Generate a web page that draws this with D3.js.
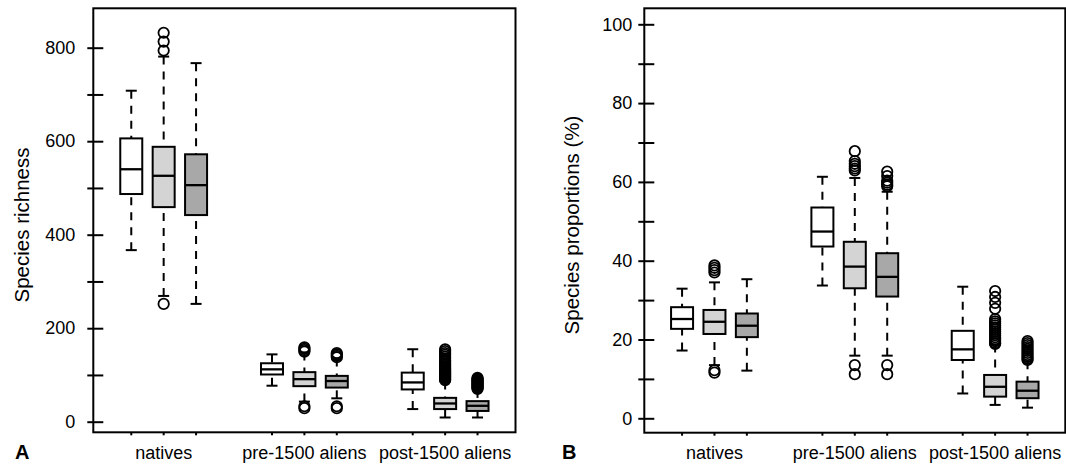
<!DOCTYPE html>
<html><head><meta charset="utf-8">
<script src="https://cdn.jsdelivr.net/npm/d3@7"></script>
<style>
body{margin:0;background:#fff}
svg{display:block}
text{font-family:"Liberation Sans",Arial,Helvetica,sans-serif;fill:#000}
</style>
</head><body>
<svg id="c" width="1066" height="464"></svg>
<script>
// ---------------- data ----------------
const groups = ["natives", "pre-1500 aliens", "post-1500 aliens"];
const series = ["s1", "s2", "s3"];   // three boxes per group (white, light grey, dark grey)

// Panel A: species richness  (order: natives s1..s3, pre-1500 s1..s3, post-1500 s1..s3)
const richLow  = [367, 269, 252,  77,  43,  50,  27,   9,   9];
const richQ1   = [487, 459, 442, 101,  76,  73,  69,  27,  23];
const richMed  = [540, 526, 506, 112,  91,  87,  84,  39,  34];
const richQ3   = [606, 588, 572, 125, 106,  98, 105,  51,  44];
const richHigh = [708, 781, 767, 144, 148, 135, 155,  86,  68];
const richOut  = [
  [],
  [832, 813, 794, 252],
  [],
  [],
  [159, 156, 153, 150, 33, 29],
  [147, 144, 141, 138, 33, 29],
  [],
  [155, 151, 147, 143, 139, 135, 131, 128, 125, 122, 119, 116, 113, 111, 109, 107, 105, 103, 101, 99, 97, 95, 93, 91, 89],
  [94, 92, 90, 88, 86, 84, 82, 80, 78, 76, 74, 72, 70]
];
const richTicks  = [0, 100, 200, 300, 400, 500, 600, 700, 800];
const richLabels = [0, 200, 400, 600, 800];

// Panel B: species proportions (%)
const propLow  = [17.2, 13.5, 12.1, 33.7, 15.9, 15.9,  6.3,  3.4,  2.7];
const propQ1   = [22.7, 21.4, 20.6, 43.6, 33.0, 30.9, 14.8,  5.5,  5.1];
const propMed  = [25.2, 24.5, 23.5, 47.4, 38.5, 35.9, 17.5,  8.0,  7.0];
const propQ3   = [28.2, 27.5, 26.6, 53.5, 44.8, 41.9, 22.2, 11.0,  9.3];
const propHigh = [32.9, 34.5, 35.3, 61.3, 61.0, 57.5, 33.4, 18.7, 14.5];
const propOut  = [
  [],
  [38.8, 38.2, 37.6, 37.0, 12.2, 11.6],
  [],
  [],
  [67.8, 65.3, 64.6, 64.0, 63.4, 62.9, 13.5, 11.2],
  [62.6, 61.5, 60.3, 59.8, 59.3, 58.9, 13.5, 11.2],
  [],
  [32.3, 30.8, 29.3, 27.8, 25.2, 24.6, 24.1, 23.6, 23.1, 22.6, 22.1, 21.6, 21.1, 20.6, 20.1, 19.6, 19.1, 18.9],
  [19.6, 19.1, 18.6, 18.1, 17.6, 17.1, 16.6, 16.1, 15.6, 15.2, 14.8]
];
const propTicks  = [0, 10, 20, 30, 40, 50, 60, 70, 80, 90, 100];
const propLabels = [0, 20, 40, 60, 80, 100];

// ---------------- style ----------------
const fills = {s1: "#ffffff", s2: "#d4d4d4", s3: "#a8a8a8"};
const svg = d3.select("#c");

function panel(cfg) {
  const g = svg.append("g");
  const xg = d3.scaleBand().domain(groups).range([cfg.left, cfg.right]).paddingInner(0).paddingOuter(0);
  const xs = d3.scaleBand().domain(series).range([-48.6, 48.6]);
  const y = d3.scaleLinear().domain(cfg.domain).range(cfg.range);
  const cx = (i) => xg(groups[Math.floor(i / 3)]) + xg.bandwidth() / 2 + xs(series[i % 3]) + xs.bandwidth() / 2;
  const bw = 22, cap = 5.5;

  const idx = d3.range(9);
  // whiskers (dashed) from whisker end to box
  g.selectAll(".wu").data(idx).join("line")
    .attr("x1", cx).attr("x2", cx)
    .attr("y1", i => y(cfg.high[i])).attr("y2", i => y(cfg.q3[i]))
    .attr("stroke", "#000").attr("stroke-width", 2).attr("stroke-dasharray", "8,7");
  g.selectAll(".wl").data(idx).join("line")
    .attr("x1", cx).attr("x2", cx)
    .attr("y1", i => y(cfg.low[i])).attr("y2", i => y(cfg.q1[i]))
    .attr("stroke", "#000").attr("stroke-width", 2).attr("stroke-dasharray", "8,7");
  // staples
  ["high", "low"].forEach(k => {
    g.selectAll(".st" + k).data(idx).join("line")
      .attr("x1", i => cx(i) - cap).attr("x2", i => cx(i) + cap)
      .attr("y1", i => y(cfg[k][i])).attr("y2", i => y(cfg[k][i]))
      .attr("stroke", "#000").attr("stroke-width", 2);
  });
  // boxes
  g.selectAll(".bx").data(idx).join("rect")
    .attr("x", i => cx(i) - bw / 2).attr("width", bw)
    .attr("y", i => y(cfg.q3[i])).attr("height", i => y(cfg.q1[i]) - y(cfg.q3[i]))
    .attr("fill", i => fills[series[i % 3]]).attr("stroke", "#000").attr("stroke-width", 2);
  // medians
  g.selectAll(".md").data(idx).join("line")
    .attr("x1", i => cx(i) - bw / 2).attr("x2", i => cx(i) + bw / 2)
    .attr("y1", i => y(cfg.med[i])).attr("y2", i => y(cfg.med[i]))
    .attr("stroke", "#000").attr("stroke-width", 2.3);
  // outliers
  const pts = [];
  cfg.out.forEach((arr, i) => arr.forEach(v => pts.push({i, v})));
  g.selectAll(".ot").data(pts).join("circle")
    .attr("cx", d => cx(d.i)).attr("cy", d => y(d.v)).attr("r", 5.2)
    .attr("fill", "none").attr("stroke", "#000").attr("stroke-width", 1.8);

  // frame
  g.append("rect").attr("x", cfg.left).attr("y", cfg.top)
    .attr("width", cfg.right - cfg.left).attr("height", cfg.bottom - cfg.top)
    .attr("fill", "none").attr("stroke", "#000").attr("stroke-width", 2);

  // y axis
  const ax = d3.axisLeft(y).tickValues(cfg.ticks)
    .tickFormat(v => cfg.labels.includes(v) ? String(v) : "")
    .tickSize(6).tickPadding(cfg.labPad);
  const ag = g.append("g").attr("transform", `translate(${cfg.left},0)`).call(ax);
  ag.select(".domain").remove();
  ag.selectAll(".tick line").attr("x1", 10).attr("x2", -6).attr("stroke", "#000").attr("stroke-width", 2);
  ag.selectAll(".tick text").attr("font-size", 18).attr("font-family", "Liberation Sans, Arial, sans-serif");

  // x axis ticks (short)
  g.selectAll(".xt").data(idx).join("line")
    .attr("x1", cx).attr("x2", cx).attr("y1", cfg.bottom).attr("y2", cfg.bottom + 3)
    .attr("stroke", "#000").attr("stroke-width", 2);
  g.selectAll(".xl").data(groups).join("text")
    .attr("x", d => xg(d) + xg.bandwidth() / 2).attr("y", 459)
    .attr("text-anchor", "middle").attr("font-size", 18).text(d => d);

  // y title
  g.append("text").attr("transform", `translate(${cfg.titleX},${225}) rotate(-90)`)
    .attr("text-anchor", "middle").attr("dominant-baseline", "central")
    .attr("font-size", 20.5).text(cfg.title);
  // panel letter
  g.append("text").attr("x", cfg.letterX).attr("y", 458.5)
    .attr("font-size", 20).attr("font-weight", "bold").text(cfg.letter);
}

panel({
  left: 93.3, right: 515.5, top: 8.3, bottom: 432.3,
  domain: [0, 800], range: [421.7, 47.7],
  ticks: richTicks, labels: richLabels, labPad: 12,
  low: richLow, q1: richQ1, med: richMed, q3: richQ3, high: richHigh, out: richOut,
  title: "Species richness", titleX: 21, letter: "A", letterX: 15
});
panel({
  left: 644.3, right: 1065.3, top: 8.3, bottom: 432.7,
  domain: [0, 100], range: [418.3, 24.3],
  ticks: propTicks, labels: propLabels, labPad: 6,
  low: propLow, q1: propQ1, med: propMed, q3: propQ3, high: propHigh, out: propOut,
  title: "Species proportions (%)", titleX: 571, letter: "B", letterX: 562
});
</script>
</body></html>
